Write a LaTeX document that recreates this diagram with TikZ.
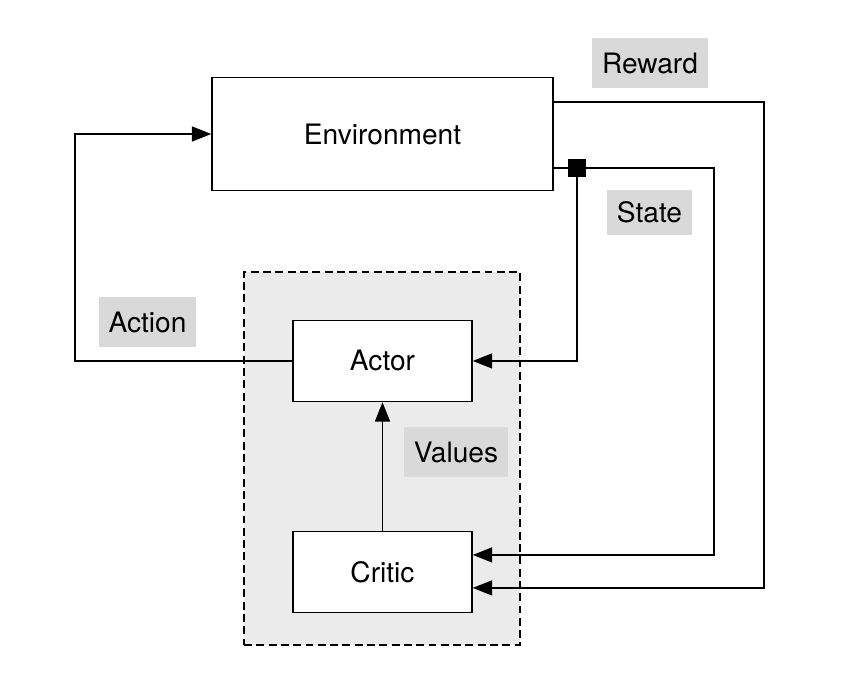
\documentclass[tikz,border=0pt]{standalone}
\usepackage{fontspec}
\setmainfont{TeX Gyre Heros}
\usetikzlibrary{arrows.meta}
\definecolor{labelgray}{RGB}{217,217,217}
\definecolor{groupgray}{RGB}{235,235,235}
\tikzstyle{block} = [rectangle, draw, line width=0.9pt, fill=white,
    minimum width=3.58cm, minimum height=1.62cm, text centered]
\tikzstyle{tag} = [rectangle, fill=labelgray, inner xsep=0.2cm, minimum height=1cm]
\tikzstyle{group} = [rectangle, draw, fill=groupgray, line width=0.9pt,
    dash pattern=on 4.5pt off 2.5pt]
\tikzstyle{junction} = [rectangle, fill=black, minimum size=0.35cm, inner sep=0pt]
\tikzstyle{line} = [draw, line width=0.9pt, -{Triangle[length=11pt,width=8.5pt]}]

\begin{document}
\begin{tikzpicture}[x=0.02cm, y=-0.02cm, font=\fontsize{16}{19}\selectfont]
    \useasboundingbox (0,0) rectangle (846,688);
    % Place nodes
    \node [group, minimum width=5.52cm, minimum height=7.46cm] (agent) at (382,458.5) {};
    \node [block, minimum width=6.82cm, minimum height=2.26cm] (env) at (382.5,134) {Environment};
    \node [block, below of=env, node distance=4.54cm] (actor) {Actor};
    \node [block, below of=actor, node distance=4.22cm] (critic) {Critic};
    \node [junction] (split) at (577,168) {};
    \node [tag] (reward) at (650,63) {Reward};
    \node [tag, minimum height=0.9cm] (state) at (649.5,212.5) {State};
    \node [tag] (values) at (456,452) {Values};
    \node [tag] (action) at (147.5,322) {Action};
    % Draw edges
    \path [line] (actor.west) -- ++(-217,0) |- (env.west);
    \path [line] (critic.north) -- (actor.south);
    \path [line] ([yshift=0.64cm]env.east) -- ++(210,0) |- ([yshift=-0.32cm]critic.east);
    \draw [line width=0.9pt] ([yshift=-0.68cm]env.east) -- (split);
    \path [line] (split) |- (actor.east);
    \path [line] (split) -- ++(137,0) |- ([yshift=0.34cm]critic.east);
\end{tikzpicture}
\end{document}
